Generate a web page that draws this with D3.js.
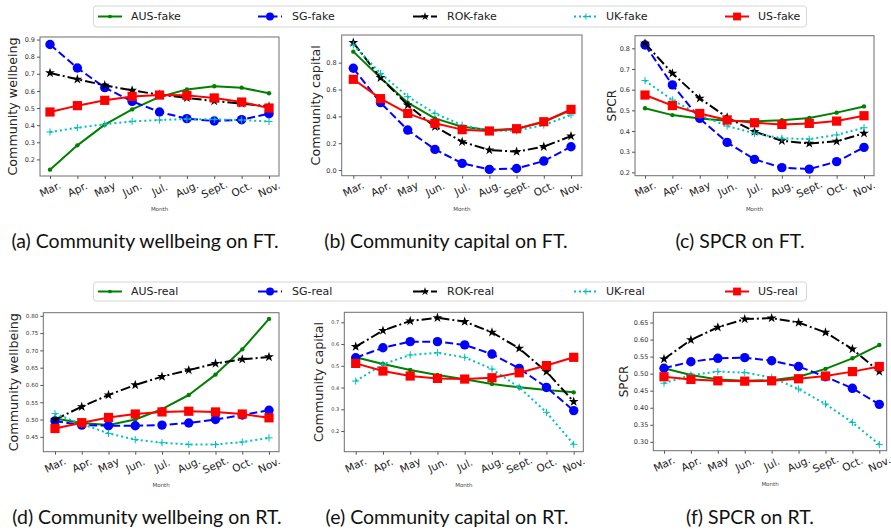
<!DOCTYPE html>
<html>
<head>
<meta charset="utf-8">
<script src="https://cdn.jsdelivr.net/npm/d3@7"></script>
<style>
  body { margin: 0; background: #fff; }
  svg { display: block; }
</style>
</head>
<body>
<svg id="fig" width="891" height="532"></svg>
<script>
// ---- Data -------------------------------------------------------------
const months = ["Mar.", "Apr.", "May", "Jun.", "Jul.", "Aug.", "Sept.", "Oct.", "Nov."];
const countries = ["AUS", "SG", "ROK", "UK", "US"];

// (a) Community wellbeing on FT
const wellbeingFT_AUS = [0.140, 0.282, 0.403, 0.492, 0.565, 0.609, 0.627, 0.619, 0.586];
const wellbeingFT_SG  = [0.871, 0.734, 0.619, 0.539, 0.477, 0.438, 0.424, 0.432, 0.467];
const wellbeingFT_ROK = [0.705, 0.668, 0.633, 0.603, 0.578, 0.559, 0.541, 0.526, 0.510];
const wellbeingFT_UK  = [0.360, 0.385, 0.405, 0.422, 0.430, 0.436, 0.434, 0.430, 0.422];
const wellbeingFT_US  = [0.477, 0.514, 0.545, 0.568, 0.576, 0.574, 0.559, 0.535, 0.500];

// (b) Community capital on FT
const capitalFT_AUS = [0.882, 0.688, 0.502, 0.385, 0.323, 0.298, 0.306, 0.360, 0.447];
const capitalFT_SG  = [0.758, 0.502, 0.298, 0.154, 0.050, 0.005, 0.012, 0.067, 0.174];
const capitalFT_ROK = [0.949, 0.688, 0.484, 0.323, 0.211, 0.149, 0.137, 0.174, 0.253];
const capitalFT_UK  = [0.932, 0.720, 0.547, 0.422, 0.335, 0.293, 0.293, 0.335, 0.410];
const capitalFT_US  = [0.676, 0.532, 0.422, 0.348, 0.301, 0.291, 0.308, 0.360, 0.452];

// (c) SPCR on FT
const spcrFT_AUS = [0.510, 0.477, 0.461, 0.450, 0.447, 0.452, 0.463, 0.489, 0.519];
const spcrFT_SG  = [0.816, 0.623, 0.461, 0.345, 0.263, 0.223, 0.216, 0.252, 0.321];
const spcrFT_ROK = [0.824, 0.679, 0.558, 0.466, 0.397, 0.353, 0.340, 0.350, 0.389];
const spcrFT_UK  = [0.644, 0.550, 0.477, 0.424, 0.389, 0.365, 0.361, 0.381, 0.416];
const spcrFT_US  = [0.574, 0.523, 0.485, 0.453, 0.440, 0.432, 0.437, 0.448, 0.474];

// (d) Community wellbeing on RT
const wellbeingRT_AUS = [0.503, 0.490, 0.484, 0.500, 0.530, 0.571, 0.630, 0.703, 0.791];
const wellbeingRT_SG  = [0.496, 0.484, 0.482, 0.482, 0.484, 0.490, 0.500, 0.513, 0.527];
const wellbeingRT_ROK = [0.500, 0.537, 0.571, 0.600, 0.624, 0.643, 0.662, 0.674, 0.681];
const wellbeingRT_UK  = [0.517, 0.487, 0.460, 0.442, 0.433, 0.428, 0.428, 0.435, 0.447];
const wellbeingRT_US  = [0.474, 0.491, 0.506, 0.516, 0.522, 0.524, 0.522, 0.516, 0.505];

// (e) Community capital on RT
const capitalRT_AUS = [0.539, 0.508, 0.481, 0.458, 0.438, 0.416, 0.401, 0.389, 0.378];
const capitalRT_SG  = [0.537, 0.583, 0.611, 0.611, 0.596, 0.554, 0.488, 0.401, 0.294];
const capitalRT_ROK = [0.588, 0.662, 0.706, 0.721, 0.703, 0.654, 0.580, 0.473, 0.335];
const capitalRT_UK  = [0.430, 0.507, 0.550, 0.560, 0.539, 0.485, 0.401, 0.286, 0.139];
const capitalRT_US  = [0.511, 0.476, 0.453, 0.442, 0.439, 0.445, 0.468, 0.501, 0.539];

// (f) SPCR on RT
const spcrRT_AUS = [0.516, 0.496, 0.483, 0.479, 0.481, 0.491, 0.514, 0.545, 0.584];
const spcrRT_SG  = [0.516, 0.535, 0.545, 0.547, 0.538, 0.521, 0.491, 0.457, 0.410];
const spcrRT_ROK = [0.543, 0.599, 0.636, 0.660, 0.663, 0.650, 0.621, 0.572, 0.506];
const spcrRT_UK  = [0.472, 0.496, 0.506, 0.503, 0.489, 0.455, 0.411, 0.357, 0.292];
const spcrRT_US  = [0.491, 0.483, 0.479, 0.478, 0.479, 0.485, 0.493, 0.506, 0.521];

// Y tick values per panel
const ticksA = [0.2, 0.3, 0.4, 0.5, 0.6, 0.7, 0.8, 0.9];
const ticksB = [0.0, 0.2, 0.4, 0.6, 0.8];
const ticksC = [0.2, 0.3, 0.4, 0.5, 0.6, 0.7, 0.8];
const ticksD = [0.45, 0.50, 0.55, 0.60, 0.65, 0.70, 0.75, 0.80];
const ticksE = [0.2, 0.3, 0.4, 0.5, 0.6, 0.7];
const ticksF = [0.30, 0.35, 0.40, 0.45, 0.50, 0.55, 0.60, 0.65];

// ---- Styles -----------------------------------------------------------
const style = {
  AUS: { color: "#008000", dash: null,           marker: "dot"    },
  SG:  { color: "#0000ff", dash: "8,3.5",        marker: "circle" },
  ROK: { color: "#000000", dash: "10,3,2,3",     marker: "star"   },
  UK:  { color: "#00bfbf", dash: "2,3",          marker: "plus"   },
  US:  { color: "#ff0000", dash: null,           marker: "square" }
};

const panels = [
  { series: [wellbeingFT_AUS, wellbeingFT_SG, wellbeingFT_ROK, wellbeingFT_UK, wellbeingFT_US],
    box: [40, 279, 37, 176], xr: [50, 269], yd: [0.103, 0.915], ticks: ticksA, fmt: ".1f", tfs: 6.5,
    ylabel: "Community wellbeing", ylx: 12, caption: "(a) Community wellbeing on FT.", cx: 145, cy: 247 },
  { series: [capitalFT_AUS, capitalFT_SG, capitalFT_ROK, capitalFT_UK, capitalFT_US],
    box: [341.7, 582, 35, 175.7], xr: [353.3, 571], yd: [-0.042, 1.006], ticks: ticksB, fmt: ".1f", tfs: 6.5,
    ylabel: "Community capital", ylx: 315, caption: "(b) Community capital on FT.", cx: 446, cy: 247 },
  { series: [spcrFT_AUS, spcrFT_SG, spcrFT_ROK, spcrFT_UK, spcrFT_US],
    box: [635, 874, 35.7, 175.7], xr: [645, 864], yd: [0.184, 0.861], ticks: ticksC, fmt: ".1f", tfs: 6.5,
    ylabel: "SPCR", ylx: 611, caption: "(c) SPCR on FT.", cx: 740, cy: 247 },
  { series: [wellbeingRT_AUS, wellbeingRT_SG, wellbeingRT_ROK, wellbeingRT_UK, wellbeingRT_US],
    box: [43.3, 279, 312.7, 451.7], xr: [55, 269], yd: [0.407, 0.809], ticks: ticksD, fmt: ".2f", tfs: 5.6,
    ylabel: "Community wellbeing", ylx: 13, caption: "(d) Community wellbeing on RT.", cx: 147, cy: 523 },
  { series: [capitalRT_AUS, capitalRT_SG, capitalRT_ROK, capitalRT_UK, capitalRT_US],
    box: [344.3, 583.3, 312.3, 451.7], xr: [355.7, 573.7], yd: [0.105, 0.746], ticks: ticksE, fmt: ".1f", tfs: 5,
    ylabel: "Community capital", ylx: 318, caption: "(e) Community capital on RT.", cx: 447, cy: 523 },
  { series: [spcrRT_AUS, spcrRT_SG, spcrRT_ROK, spcrRT_UK, spcrRT_US],
    box: [653.3, 886.7, 312.3, 450.7], xr: [664, 879.3], yd: [0.274, 0.680], ticks: ticksF, fmt: ".2f", tfs: 6.5,
    ylabel: "SPCR", ylx: 623, caption: "(f) SPCR on RT.", cx: 750, cy: 523 }
];

const svg = d3.select("#fig");
const MPL = "DejaVu Sans, sans-serif";

// ---- Marker drawing ---------------------------------------------------
function drawMarker(g, kind, color, x, y, s = 1) {
  if (kind === "dot") {
    g.append("circle").attr("cx", x).attr("cy", y).attr("r", 2.2 * s).attr("fill", color);
  } else if (kind === "circle") {
    g.append("circle").attr("cx", x).attr("cy", y).attr("r", 4.7 * s).attr("fill", color);
  } else if (kind === "square") {
    const h = 4.6 * s;
    g.append("rect").attr("x", x - h).attr("y", y - h).attr("width", 2 * h).attr("height", 2 * h).attr("fill", color);
  } else if (kind === "star") {
    g.append("path").attr("d", d3.symbol(d3.symbolStar, 30 * s * s)()).attr("transform", `translate(${x},${y})`)
      .attr("fill", color);
  } else if (kind === "plus") {
    const h = 3.6 * s;
    g.append("path").attr("d", `M${x - h},${y}H${x + h}M${x},${y - h}V${y + h}`)
      .attr("stroke", color).attr("stroke-width", 1);
  }
}

// ---- Panels -----------------------------------------------------------
panels.forEach(p => {
  const [x0, x1, y0, y1] = p.box;
  const x = d3.scalePoint().domain(months).range(p.xr);
  const y = d3.scaleLinear().domain(p.yd).range([y1, y0]);
  const g = svg.append("g");

  // Series: line then markers, drawn in legend order
  countries.forEach((c, i) => {
    const st = style[c];
    const vals = p.series[i];
    const line = d3.line().x((d, j) => x(months[j])).y(d => y(d));
    g.append("path").datum(vals).attr("d", line)
      .attr("fill", "none").attr("stroke", st.color).attr("stroke-width", 2)
      .attr("stroke-dasharray", st.dash).attr("stroke-linejoin", "round");
    vals.forEach((v, j) => drawMarker(g, st.marker, st.color, x(months[j]), y(v)));
  });

  // Frame
  g.append("rect").attr("x", x0).attr("y", y0).attr("width", x1 - x0).attr("height", y1 - y0)
    .attr("fill", "none").attr("stroke", "#6e6e6e").attr("stroke-width", 1);

  // Y axis
  const yAxis = d3.axisLeft(y).tickValues(p.ticks).tickFormat(d3.format(p.fmt)).tickSize(3).tickPadding(2);
  const ya = g.append("g").attr("transform", `translate(${x0},0)`).call(yAxis);
  ya.select(".domain").remove();
  ya.selectAll("line").attr("stroke", "#555");
  ya.selectAll("text").attr("font-family", MPL).attr("font-size", p.tfs).attr("fill", "#333");

  // X axis with slanted month labels
  const xAxis = d3.axisBottom(x).tickSize(3).tickFormat("");
  const xa = g.append("g").attr("transform", `translate(0,${y1})`).call(xAxis);
  xa.select(".domain").remove();
  xa.selectAll("line").attr("stroke", "#555");
  months.forEach(m => {
    const tx = x(m), ty = y1 + 13;
    g.append("text").attr("transform", `translate(${tx},${ty}) rotate(-25)`)
      .attr("text-anchor", "middle").attr("dominant-baseline", "central")
      .attr("font-family", MPL).attr("font-size", 10.5).attr("fill", "#222").text(m);
  });

  // Axis titles
  g.append("text").attr("x", (x0 + x1) / 2).attr("y", y1 + 35).attr("text-anchor", "middle")
    .attr("font-family", MPL).attr("font-size", 5.5).attr("fill", "#444").text("Month");
  g.append("text").attr("transform", `translate(${p.ylx + 4.5},${(y0 + y1) / 2}) rotate(-90)`)
    .attr("text-anchor", "middle").attr("font-family", MPL)
    .attr("font-size", p.ylabel === "SPCR" ? 12 : 12.7).attr("fill", "#222").text(p.ylabel);

  // Sub-figure caption
  svg.append("text").attr("x", p.cx).attr("y", p.cy + 1).attr("text-anchor", "middle")
    .attr("font-family", "Lato, 'Open Sans', sans-serif").attr("font-size", 19.5).attr("fill", "#111")
    .text(p.caption);
});

// ---- Legends ----------------------------------------------------------
function legend(top, h, suffix) {
  const lg = svg.append("g");
  lg.append("rect").attr("x", 93.5).attr("y", top).attr("width", 713).attr("height", h).attr("rx", 3)
    .attr("fill", "#fff").attr("stroke", "#d6d6d6").attr("stroke-width", 1);
  const handleX = [98, 258, 413, 574, 725];
  const textX = [131, 292, 447, 606, 758];
  const cy = top + h / 2;
  countries.forEach((c, i) => {
    const st = style[c];
    lg.append("line").attr("x1", handleX[i]).attr("x2", handleX[i] + 24).attr("y1", cy).attr("y2", cy)
      .attr("stroke", st.color).attr("stroke-width", 2).attr("stroke-dasharray", st.dash);
    drawMarker(lg, st.marker, st.color, handleX[i] + 12, cy, 0.85);
    lg.append("text").attr("x", textX[i]).attr("y", cy).attr("dominant-baseline", "central")
      .attr("font-family", MPL).attr("font-size", 11).attr("fill", "#222").text(`${c}-${suffix}`);
  });
}
legend(6, 21, "fake");
legend(282, 19, "real");
</script>
</body>
</html>
